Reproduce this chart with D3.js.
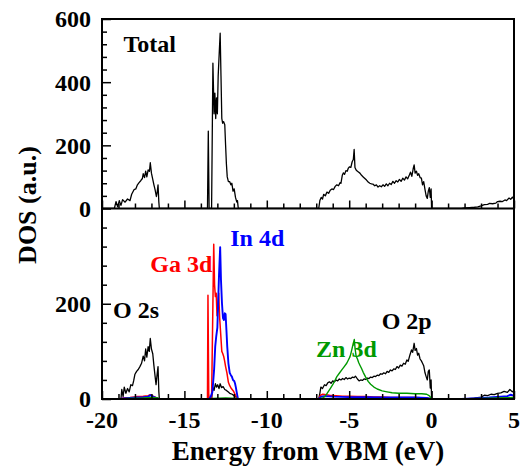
<!DOCTYPE html>
<html><head><meta charset="utf-8">
<script src="https://cdn.jsdelivr.net/npm/d3@7"></script>
<style>body{margin:0;background:#fff} svg{display:block}</style>
</head><body><svg id="c" width="521" height="466" font-family="Liberation Serif"></svg>
<script>
const xTicks = [-20,-15,-10,-5,0,5];
const topYTicks = [0,200,400,600];
const botYTicks = [0,200];

const totalDOS = [[-20,0],[-19.25,0],[-19.15,22],[-19.05,5],[-18.95,25],[-18.85,10],[-18.75,28],[-18.6,20],[-18.45,30],[-18.3,25],[-18.2,45],[-18.05,60],[-17.95,62],[-17.85,75],[-17.75,82],[-17.65,88],[-17.55,95],[-17.5,110],[-17.42,98],[-17.35,118],[-17.28,100],[-17.2,122],[-17.12,118],[-17.07,145],[-17.0,112],[-16.92,92],[-16.85,75],[-16.78,60],[-16.7,38],[-16.65,52],[-16.6,75],[-16.55,20],[-16.52,0],
[-13.6,0],[-13.55,245],[-13.5,0],[-13.35,0],[-13.27,460],[-13.2,300],[-13.15,365],[-13.1,285],[-13.05,350],[-13.0,300],[-12.95,420],[-12.88,500],[-12.83,555],[-12.78,420],[-12.73,285],[-12.68,270],[-12.62,275],[-12.55,265],[-12.5,200],[-12.45,140],[-12.4,100],[-12.33,85],[-12.25,85],[-12.18,75],[-12.12,80],[-12.05,55],[-11.98,62],[-11.9,35],[-11.82,20],[-11.78,25],[-11.73,0],
[-6.85,0],[-6.78,25],[-6.7,35],[-6.62,30],[-6.55,45],[-6.45,40],[-6.35,52],[-6.25,48],[-6.15,58],[-6.05,62],[-5.95,60],[-5.85,70],[-5.75,75],[-5.65,72],[-5.55,82],[-5.5,80],[-5.42,105],[-5.35,113],[-5.28,108],[-5.2,120],[-5.12,118],[-5.05,128],[-4.98,132],[-4.9,130],[-4.82,148],[-4.75,155],[-4.7,187],[-4.65,130],[-4.58,122],[-4.5,118],[-4.42,115],[-4.35,112],[-4.25,105],[-4.15,100],[-4.05,95],[-3.95,90],[-3.85,84],[-3.75,80],[-3.65,78],[-3.55,77],[-3.45,72],[-3.35,75],[-3.25,68],[-3.15,72],[-3.05,69],[-2.95,75],[-2.85,70],[-2.75,78],[-2.65,72],[-2.55,80],[-2.45,76],[-2.35,86],[-2.25,80],[-2.15,88],[-2.05,84],[-1.95,92],[-1.85,86],[-1.75,96],[-1.65,90],[-1.55,100],[-1.45,94],[-1.35,106],[-1.28,115],[-1.2,102],[-1.12,125],[-1.06,138],[-1.0,112],[-0.92,118],[-0.85,105],[-0.78,110],[-0.7,98],[-0.62,96],[-0.55,75],[-0.48,85],[-0.4,60],[-0.33,40],[-0.26,32],[-0.2,55],[-0.14,66],[-0.08,35],[-0.03,62],[0.0,0],
[1.8,0],[2.0,2],[2.3,3],[2.6,4],[2.8,5],[3.0,8],[3.2,12],[3.4,13],[3.5,16],[3.7,15],[3.9,17],[4.0,22],[4.15,23],[4.3,22],[4.45,27],[4.55,25],[4.7,33],[4.8,29],[4.9,36],[5,29]];

const oDOS = [[-20,0],[-18.85,0],[-18.8,20],[-18.72,5],[-18.65,25],[-18.55,12],[-18.45,22],[-18.35,15],[-18.25,30],[-18.15,28],[-18.08,38],[-18.0,52],[-17.9,58],[-17.8,62],[-17.7,68],[-17.6,75],[-17.5,90],[-17.42,80],[-17.35,105],[-17.28,88],[-17.2,110],[-17.13,100],[-17.07,127],[-17.0,105],[-16.92,95],[-16.85,70],[-16.78,48],[-16.72,30],[-16.66,50],[-16.6,68],[-16.55,15],[-16.52,0],
[-13.6,0],[-13.55,12],[-13.5,0],[-13.35,0],[-13.28,25],[-13.2,18],[-13.12,32],[-13.05,25],[-12.98,30],[-12.9,22],[-12.83,32],[-12.75,24],[-12.65,26],[-12.55,20],[-12.45,18],[-12.35,15],[-12.25,12],[-12.1,10],[-11.95,6],[-11.8,3],[-11.73,0],
[-6.85,0],[-6.78,12],[-6.72,25],[-6.62,22],[-6.5,30],[-6.4,28],[-6.3,34],[-6.2,36],[-6.1,33],[-6.0,38],[-5.9,36],[-5.8,40],[-5.7,38],[-5.6,42],[-5.5,40],[-5.4,43],[-5.3,41],[-5.2,45],[-5.1,42],[-5.0,44],[-4.9,43],[-4.8,46],[-4.7,45],[-4.62,48],[-4.5,42],[-4.4,38],[-4.3,40],[-4.2,39],[-4.1,42],[-4.0,41],[-3.9,44],[-3.8,43],[-3.7,46],[-3.6,45],[-3.5,48],[-3.4,47],[-3.3,50],[-3.2,49],[-3.1,53],[-3.0,52],[-2.9,55],[-2.8,53],[-2.7,58],[-2.6,56],[-2.5,61],[-2.4,59],[-2.3,63],[-2.2,62],[-2.1,68],[-2.0,65],[-1.9,71],[-1.8,69],[-1.7,75],[-1.6,73],[-1.5,82],[-1.42,79],[-1.32,92],[-1.22,103],[-1.15,98],[-1.06,117],[-1.0,102],[-0.92,106],[-0.85,92],[-0.78,96],[-0.7,84],[-0.62,80],[-0.55,75],[-0.48,70],[-0.4,55],[-0.33,47],[-0.26,40],[-0.2,58],[-0.14,61],[-0.08,23],[-0.03,40],[0,0],
[1.8,0],[2.2,1],[2.6,2],[3.0,4],[3.2,8],[3.4,7],[3.6,10],[3.8,9],[4.0,12],[4.2,13],[4.4,16],[4.6,14],[4.75,20],[4.9,15],[5,18]];

const gaDOS = [[-20,0],[-18.9,0],[-18.7,2],[-18.3,3],[-17.9,5],[-17.5,6],[-17.2,7],[-17.07,9],[-16.9,6],[-16.7,3],[-16.55,0],
[-13.6,0],[-13.57,218],[-13.52,0],[-13.35,0],[-13.27,200],[-13.22,325],[-13.17,240],[-13.12,215],[-13.07,222],[-13.02,175],[-12.97,190],[-12.92,222],[-12.86,170],[-12.8,138],[-12.73,100],[-12.68,96],[-12.62,90],[-12.56,80],[-12.5,68],[-12.42,55],[-12.33,35],[-12.25,28],[-12.15,22],[-12.03,17],[-11.93,10],[-11.83,3],[-11.75,0],
[-6.85,0],[-6.75,8],[-6.6,10],[-6.4,9],[-6.2,8],[-5.8,7],[-5.4,6],[-5.0,6],[-4.5,5],[-4.0,5],[-3.5,4],[-3.0,4],[-2.5,3],[-2.0,3],[-1.0,3],[-0.3,2],[0,0],
[1.8,0],[3,1],[4,2],[5,3]];

const inDOS = [[-20,0],[-18.9,0],[-18.7,1],[-18.3,2],[-17.9,3],[-17.5,4],[-17.2,5],[-17.07,8],[-16.9,5],[-16.7,2],[-16.55,0],
[-13.5,0],[-13.4,5],[-13.3,15],[-13.2,60],[-13.13,110],[-13.07,131],[-13.0,150],[-12.95,205],[-12.9,260],[-12.83,319],[-12.78,250],[-12.72,201],[-12.66,170],[-12.6,166],[-12.55,180],[-12.5,178],[-12.45,145],[-12.4,110],[-12.33,75],[-12.25,55],[-12.18,50],[-12.12,47],[-12.05,40],[-11.98,38],[-11.93,33],[-11.88,25],[-11.83,15],[-11.75,0],
[-6.85,0],[-6.7,5],[-6.5,6],[-6,5],[-5,4],[-4,4],[-3,3],[-2,3],[-1,3],[-0.3,2],[0,0],
[1.8,0],[2.5,1],[3.5,3],[4.2,5],[4.6,6],[4.8,9],[5,7]];

const znDOS = [[-20,0],[-18.8,0],[-18.5,1],[-17.5,2],[-17,3],[-16.6,2],[-16.5,0],
[-13.6,0],[-13.3,1],[-12.5,2],[-11.8,1],[-11.7,0],
[-6.85,0],[-6.6,2],[-6.45,6],[-6.3,14],[-6.15,22],[-6.0,30],[-5.85,40],[-5.75,47],[-5.6,54],[-5.45,61],[-5.3,68],[-5.15,75],[-5.05,82],[-4.95,89],[-4.88,98],[-4.8,110],[-4.74,118],[-4.69,125],[-4.64,105],[-4.58,90],[-4.5,84],[-4.42,76],[-4.35,71],[-4.25,64],[-4.15,56],[-4.0,46],[-3.85,37],[-3.7,31],[-3.5,25],[-3.3,21],[-3.0,17],[-2.7,15],[-2.4,13],[-2.0,12],[-1.5,12],[-1.0,11],[-0.6,11],[-0.3,10],[-0.15,7],[-0.05,3],[0,0],
[1.8,0],[3,1],[4,2],[5,3]];

const seriesNames = ["O", "Ga 3d", "In 4d", "Zn 3d"];
const seriesColors = ["#000000", "#ff0000", "#0000ff", "#009900"];

const L = 102, R = 514, T1 = 19, B1 = 208.5, B2 = 399;
const svg = d3.select("#c");
const x = d3.scaleLinear().domain([-20,5]).range([L,R]);
const yTop = d3.scaleLinear().domain([0,600]).range([B1,T1]);
const yBot = d3.scaleLinear().domain([0,400]).range([B2,B1]);

svg.append("defs").append("clipPath").attr("id","clipT").append("rect").attr("x",L).attr("y",T1).attr("width",R-L).attr("height",B1-T1);
svg.select("defs").append("clipPath").attr("id","clipB").append("rect").attr("x",L).attr("y",B1).attr("width",R-L).attr("height",B2-B1);

const lineT = d3.line().x(d=>x(d[0])).y(d=>yTop(d[1]));
const lineB = d3.line().x(d=>x(d[0])).y(d=>yBot(d[1]));
svg.append("path").attr("clip-path","url(#clipT)").attr("d",lineT(totalDOS)).attr("fill","none").attr("stroke","#000").attr("stroke-width",1.3).attr("stroke-linejoin","round");
const botData = [oDOS, gaDOS, inDOS, znDOS];
const widths = [1.3, 1.5, 1.9, 1.4];
botData.forEach((s,i)=>{
  svg.append("path").attr("clip-path","url(#clipB)").attr("d",lineB(s)).attr("fill","none").attr("stroke",seriesColors[i]).attr("stroke-width",widths[i]).attr("stroke-linejoin","round");
});

function styleText(sel, size){
  sel.attr("font-size",size).attr("font-weight","bold").attr("font-family","Liberation Serif").style("font-family","'Liberation Serif'").attr("fill","#000");
}
function xAxis(yPos){
  const minor = svg.append("g").attr("transform",`translate(0,${yPos})`).call(d3.axisBottom(x).tickValues(d3.range(-19,5,1).filter(v=>v%5!==0)).tickSize(-5).tickFormat(""));
  minor.select(".domain").remove();
  minor.selectAll("line").attr("stroke-width",1.5);
  const major = svg.append("g").attr("transform",`translate(0,${yPos})`).call(d3.axisBottom(x).tickValues(xTicks).tickSize(-8).tickFormat(""));
  major.select(".domain").remove();
  major.selectAll("line").attr("stroke-width",1.5);
}
xAxis(B1); xAxis(B2);

function yAxis(scale, majors, maxV){
  const minorVals = d3.range(0, maxV+1, 40).filter(v=>!majors.includes(v));
  const mg = svg.append("g").attr("transform",`translate(${L},0)`).call(d3.axisLeft(scale).tickValues(minorVals).tickSize(-5).tickFormat(""));
  mg.select(".domain").remove(); mg.selectAll("line").attr("stroke-width",1.5);
  const g = svg.append("g").attr("transform",`translate(${L},0)`).call(d3.axisLeft(scale).tickValues(majors).tickSize(-9).tickFormat(""));
  g.select(".domain").remove(); g.selectAll("line").attr("stroke-width",1.5);
  const t = svg.append("g").selectAll("text").data(majors).join("text")
    .attr("x", L - 11).attr("y", d => scale(d)).attr("dy","0.35em").attr("text-anchor","end").text(d => d);
  styleText(t, 24);
}
yAxis(yTop, topYTicks, 600);
yAxis(yBot, botYTicks, 399);

const xl = svg.append("g").selectAll("text").data(xTicks).join("text")
  .attr("x",d=>x(d)).attr("y",428).attr("text-anchor","middle").text(d=>d);
styleText(xl, 24);

svg.append("rect").attr("x",L).attr("y",T1).attr("width",R-L).attr("height",B2-T1).attr("fill","none").attr("stroke","#000").attr("stroke-width",2);
svg.append("line").attr("x1",L).attr("x2",R).attr("y1",B1).attr("y2",B1).attr("stroke","#000").attr("stroke-width",2);

const lbl = (t, ex, sc, v, col) => { const s = svg.append("text").attr("x",x(ex)).attr("y",sc(v)).text(t); styleText(s, 24); s.attr("fill",col); };
lbl("Total", -18.7, yTop, 495, "#000");
lbl("O 2s", -19.33, yBot, 170, "#000");
lbl(seriesNames[1], -17.07, yBot, 267, seriesColors[1]);
lbl(seriesNames[2], -12.22, yBot, 321, seriesColors[2]);
lbl("O 2p", -3.03, yBot, 146, "#000");
lbl(seriesNames[3], -7.01, yBot, 89, seriesColors[3]);

styleText(svg.append("text").attr("x",(L+R)/2).attr("y",460).attr("text-anchor","middle").text("Energy from VBM (eV)"), 27);
styleText(svg.append("text").attr("transform","translate(36,205) rotate(-90)").attr("text-anchor","middle").text("DOS (a.u.)"), 26);
</script></body></html>
